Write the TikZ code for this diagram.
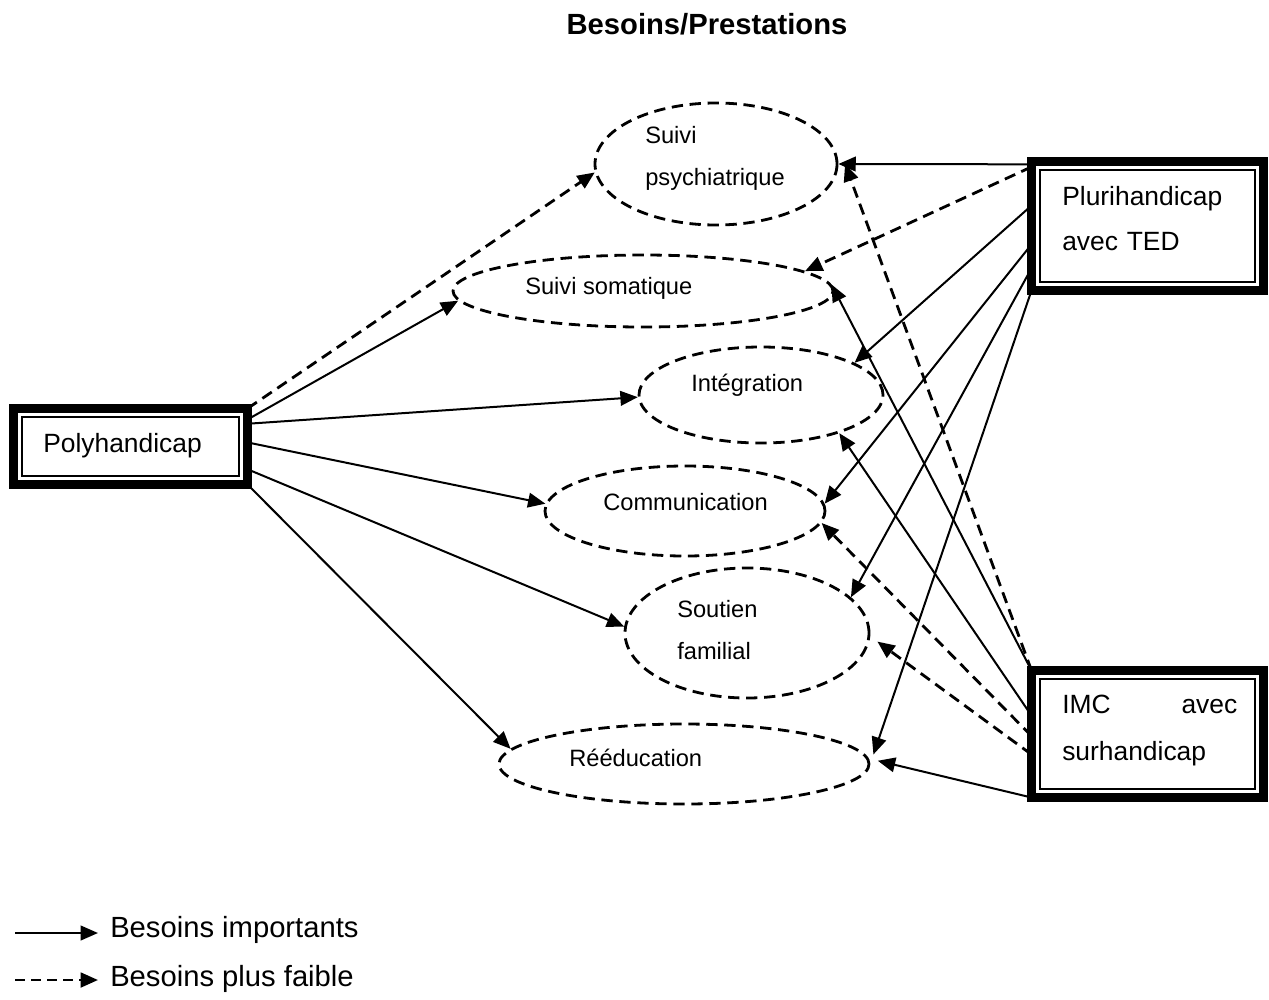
\documentclass[tikz,border=0pt]{standalone}
\usepackage{fontspec}
\setmainfont{Liberation Sans}
\usetikzlibrary{arrows.meta,shapes.geometric}

\newcommand\grpfont{\fontsize{19.8pt}{33.75pt}\selectfont}
\newcommand\needfont{\fontsize{17.75pt}{31.5pt}\selectfont}
\newcommand\legfont{\fontsize{21.9pt}{26pt}\selectfont}

\begin{document}
\begin{tikzpicture}[
 x=0.75pt, y=-0.75pt,
 need/.style={draw,ellipse,inner sep=0pt,line width=2.1pt,dash pattern=on 8.5pt off 5pt},
 grp/.style={draw,rectangle,inner sep=0pt,outer sep=0pt,line width=6.75pt},
 strong/.style={-{Triangle[length=13pt,width=11pt]},line width=1.5pt},
 weak/.style={strong,line width=2.1pt,dash pattern=on 8.5pt off 5pt},
 lbl/.style={inner sep=0pt,anchor=base west,font=\needfont},
 grplbl/.style={lbl,font=\grpfont,text width=131.25pt,align=left}
]
\useasboundingbox (0,0) rectangle (1269,999);
\node[font=\legfont\bfseries,anchor=base] (title) at (707,35) {Besoins/Prestations};

\node[grp,minimum width=175.5pt,minimum height=57pt] (poly) at (130.5,446.5) {};
\node[grp,minimum width=174pt,minimum height=96.75pt] (pluri) at (1147.5,226) {};
\node[grp,minimum width=174pt,minimum height=95.25pt] (imc) at (1147.5,734) {};
\foreach \b in {poly,pluri,imc}
  \draw[line width=1.6pt] ([shift={(6.2pt,-6.2pt)}]\b.north west) rectangle ([shift={(-6.2pt,6.2pt)}]\b.south east);
\node[grplbl] (polytxt) at (43,452) {Polyhandicap};
\node[grplbl] (pluritxt) at (1062,205) {Plurihandicap\\avec TED};
\node[grplbl,font={\fontsize{19.8pt}{35.25pt}\selectfont}] (imctxt) at (1062,713) {\hbox to 131.25pt{IMC\hfill avec}\\surhandicap};

\node[need,minimum width=181.5pt,minimum height=91.5pt] (psych) at (716,164) {};
\node[need,minimum width=285pt,minimum height=54pt] (soma) at (643,291) {};
\node[need,minimum width=183pt,minimum height=72pt] (integ) at (761,395) {};
\node[need,minimum width=210pt,minimum height=67.5pt] (comm) at (685,511) {};
\node[need,minimum width=183pt,minimum height=97.5pt] (soutien) at (747,633) {};
\node[need,minimum width=277.5pt,minimum height=60pt] (reed) at (684,764) {};
\node[lbl,text width=110pt,align=left] (psychtxt) at (645,143) {Suivi\\psychiatrique};
\node[lbl] (somatxt) at (525,294) {Suivi somatique};
\node[lbl] (integtxt) at (691,391) {Intégration};
\node[lbl] (commtxt) at (603,510) {Communication};
\node[lbl,text width=80pt,align=left] (soutientxt) at (677,617) {Soutien\\familial};
\node[lbl] (reedtxt) at (569,766) {Rééducation};

\draw[weak] (poly.north east) -- (psych.184);
\draw[strong] (poly.13) -- (soma.183);
\draw[strong] (poly.11) -- (integ.181);
\draw[strong] (poly.2) -- (comm.177);
\draw[strong] (poly.-11) -- (soutien.177);
\draw[strong] (poly.south east) -- (reed.175);

\draw[strong] (pluri.152) -- (psych.east);
\draw[weak] (pluri.153) -- (soma.7);
\draw[strong] (pluri.170) -- (integ.19);
\draw[strong] (pluri.189) -- (comm.3);
\draw[strong] (pluri.200) -- (soutien.19);
\draw[strong] (pluri.south west) -- ([xshift=6pt]reed.3);

\draw[weak] (imc.north west) -- ([xshift=5pt]psych.east);
\draw[strong] (imc.north west) -- (soma.2);
\draw[strong] (imc.171) -- (integ.-26);
\draw[weak] (imc.181) -- (comm.-5);
\draw[weak] (imc.190) -- ([xshift=6pt]soutien.-4);
\draw[strong] (imc.south west) -- ([xshift=6pt]reed.1);

\node[lbl,font=\legfont] (legimp) at (110,937) {Besoins importants};
\node[lbl,font=\legfont] (legweak) at (110,986) {Besoins plus faible};
\coordinate (legs) at (15,933);
\coordinate (legw) at (15,980);
\draw[strong,shorten >=9pt] (legs) -- (legs -| legimp.west);
\draw[weak,dash pattern=on 7.5pt off 4.5pt,shorten >=9pt] (legw) -- (legw -| legweak.west);
\end{tikzpicture}
\end{document}
